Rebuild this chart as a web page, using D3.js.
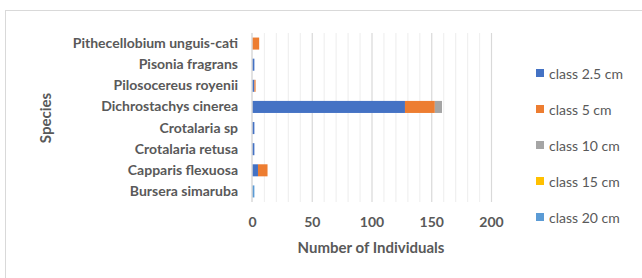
<!DOCTYPE html>
<html><head><meta charset="utf-8">
<script src="https://cdn.jsdelivr.net/npm/d3@7"></script>
<style>body{margin:0;background:#fff;}svg{display:block;font-family:Lato,"Open Sans",sans-serif;}</style>
</head><body><svg id="c" width="642" height="278"></svg>
<script>
const species = ["Pithecellobium unguis-cati","Pisonia fragrans","Pilosocereus royenii","Dichrostachys cinerea","Crotalaria sp","Crotalaria retusa","Capparis flexuosa","Bursera simaruba"];
const seriesNames = ["class 2.5 cm","class 5 cm","class 10 cm","class 15 cm","class 20 cm"];
const class2_5 = [0,2,2,128,2,2,5,0];
const class5 = [6,0,1,25,0,0,8,0];
const class10 = [0,0,0,6,0,0,0,0];
const class15 = [0,0,0,0,0,0,0,0];
const class20 = [0,0,0,0,0,0,0,2];
const colors = ["#4472C4","#ED7D31","#A5A5A5","#FFC000","#5B9BD5"];
const xTicks = [0,50,100,150,200];

const svg = d3.select("#c");
svg.append("rect").attr("x",5.5).attr("y",10.5).attr("width",700).attr("height",300)
  .attr("fill","#fff").attr("stroke","#d9d9d9");

const x = d3.scaleLinear().domain([0,200]).range([252,491]);
const y = d3.scaleBand().domain(species).range([33,202]).paddingInner(0.43).paddingOuter(0.215);

// grid
const g = svg.append("g");
g.selectAll("line.minor").data(d3.range(10,201,10).filter(v=>v%50!==0)).join("line")
  .attr("x1",d=>x(d)+0.5).attr("x2",d=>x(d)+0.5).attr("y1",33).attr("y2",202)
  .attr("stroke","#f0f0f0").attr("stroke-width",1.2);
g.selectAll("line.major").data(xTicks.slice(1)).join("line")
  .attr("x1",d=>x(d)+0.5).attr("x2",d=>x(d)+0.5).attr("y1",33).attr("y2",202)
  .attr("stroke","#d9d9d9").attr("stroke-width",1.2);

const data = species.map((s,i)=>({species:s,[seriesNames[0]]:class2_5[i],[seriesNames[1]]:class5[i],[seriesNames[2]]:class10[i],[seriesNames[3]]:class15[i],[seriesNames[4]]:class20[i]}));
const stack = d3.stack().keys(seriesNames)(data);
svg.append("g").selectAll("g").data(stack).join("g").attr("fill",(d,i)=>colors[i])
  .selectAll("rect").data(d=>d).join("rect")
  .attr("x",d=>x(d[0])).attr("width",d=>x(d[1])-x(d[0]))
  .attr("y",d=>y(d.data.species)).attr("height",y.bandwidth());

// y axis line
svg.append("line").attr("x1",x(0)).attr("x2",x(0)).attr("y1",33).attr("y2",202)
  .attr("stroke","#d9d9d9").attr("stroke-width",1.5);

// x axis labels
const xa = svg.append("g").attr("transform","translate(0,202)")
  .call(d3.axisBottom(x).tickValues(xTicks).tickSize(0).tickPadding(15));
xa.select(".domain").remove();
xa.selectAll("text").attr("font-size",14).attr("font-weight","bold").attr("fill","#595959")
  .attr("font-family","Lato,'Open Sans',sans-serif");

// y axis labels
const ya = svg.append("g").attr("transform","translate(252,0)")
  .call(d3.axisLeft(y).tickSize(0).tickPadding(14));
ya.select(".domain").remove();
ya.selectAll("text").attr("font-size",14).attr("font-weight","bold").attr("fill","#595959")
  .attr("font-family","Lato,'Open Sans',sans-serif");

// titles
svg.append("text").attr("x",371).attr("y",253).attr("text-anchor","middle")
  .attr("font-size",15).attr("font-weight","bold").attr("fill","#595959").text("Number of Individuals");
svg.append("text").attr("transform","translate(51,118) rotate(-90)").attr("text-anchor","middle")
  .attr("font-size",15).attr("font-weight","bold").attr("fill","#595959").text("Species");

// legend
const lg = svg.append("g").selectAll("g").data(seriesNames).join("g")
  .attr("transform",(d,i)=>`translate(536,${74+i*36})`);
lg.append("rect").attr("x",0).attr("y",-5).attr("width",8).attr("height",8).attr("fill",(d,i)=>colors[i]);
lg.append("text").attr("x",13).attr("y",4.5).attr("font-size",14).attr("fill","#595959").text(d=>d);
</script></body></html>
